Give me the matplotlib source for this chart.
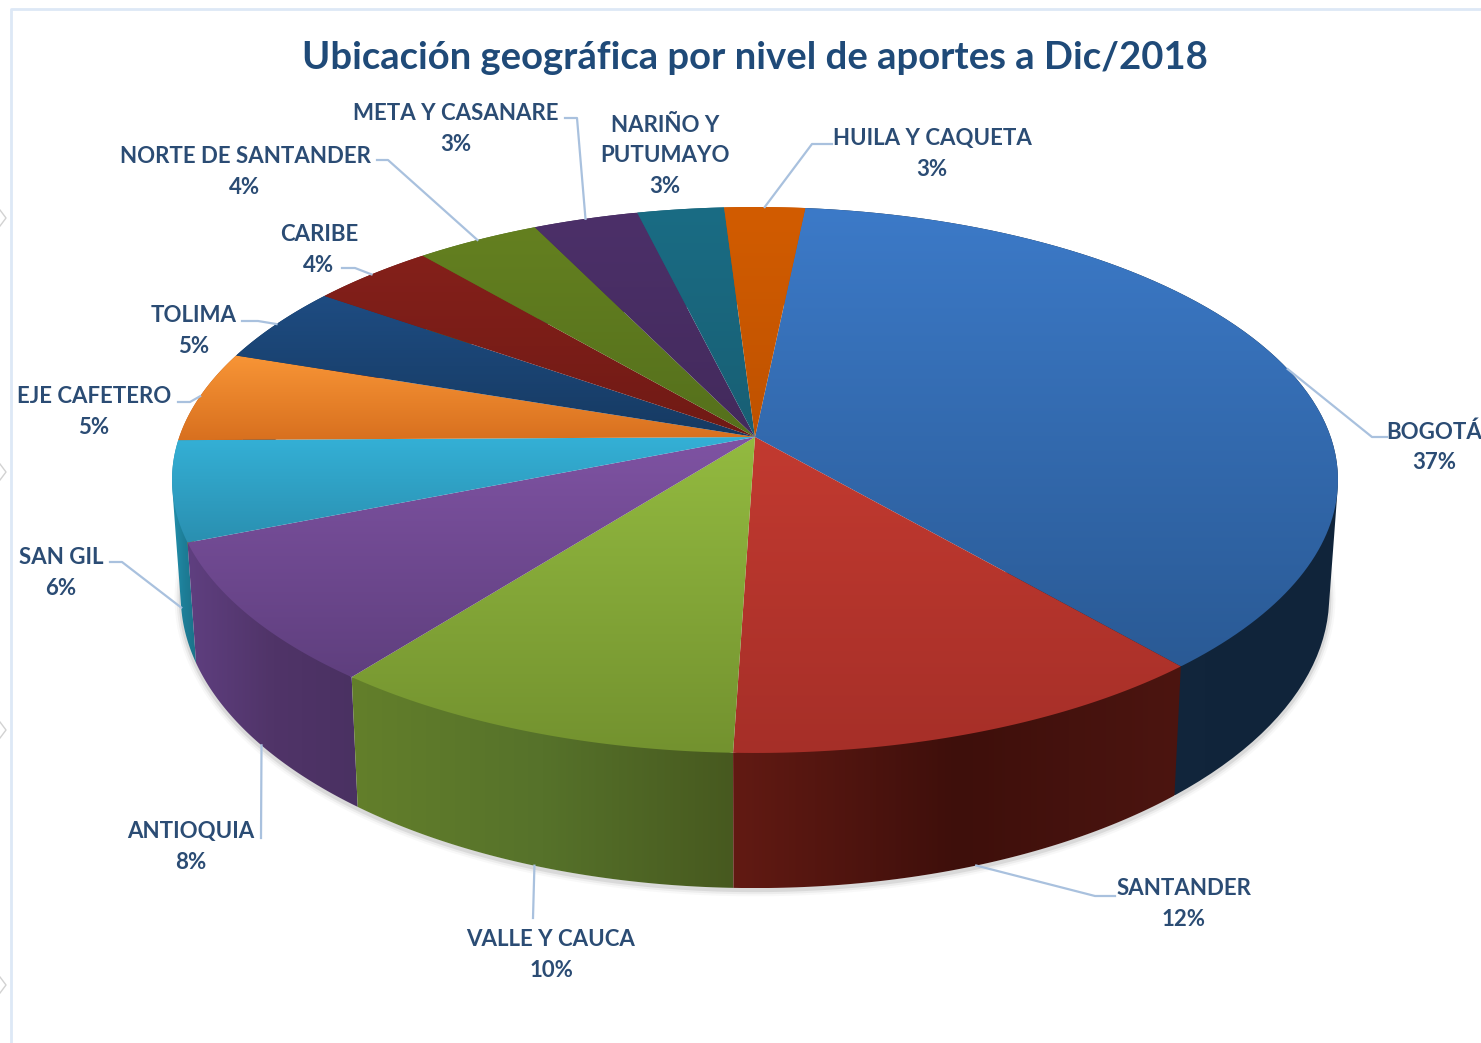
import matplotlib
matplotlib.use('Agg')
import matplotlib.pyplot as plt  # Para graficar
import numpy as np  # Para operaciones numéricas
from matplotlib.colors import LinearSegmentedColormap
from matplotlib.patches import Polygon

plt.rcParams['font.family'] = ['Lato', 'DejaVu Sans']

# Datos (los porcentajes se redondean en las etiquetas)
regiones = ['BOGOTÁ', 'SANTANDER', 'VALLE Y CAUCA', 'ANTIOQUIA', 'SAN GIL', 'EJE CAFETERO',
            'TOLIMA', 'CARIBE', 'NORTE DE SANTANDER', 'META Y CASANARE', 'NARIÑO Y\nPUTUMAYO',
            'HUILA Y CAQUETA']
aportes = [37.1, 11.8, 10.0, 8.4, 5.9, 5.4, 4.6, 4.0, 4.0, 3.4, 2.8, 2.6]

# Colores de la cara superior (arriba, abajo) y del lateral (izquierda, centro, derecha)
color_sup = [('#3c7ac8', '#2a5a95'), ('#c23a30', '#a62f28'), ('#93ba40', '#73922f'),
             ('#7f53a3', '#5f3f7e'), ('#34b0d6', '#2a8fb0'), ('#f89536', '#d8701f'),
             ('#1e4c82', '#163a62'), ('#84201a', '#701a15'), ('#648020', '#55701c'),
             ('#4c3069', '#432a5c'), ('#1a6c84', '#185f74'), ('#d25c00', '#bf5200')]
color_lat = [('#13293f', '#12263c', '#10243a'), ('#621a13', '#3e0f0b', '#4c1510'),
             ('#637f2b', '#56722a', '#47591f'), ('#5f3f80', '#503468', '#4a3162'),
             ('#2290ac', '#1d7d97', '#1b7288'), ('#c0601a', '#b05515', '#a04c10'),
             ('#163a62', '#163a62', '#163a62'), ('#701a15', '#701a15', '#701a15'),
             ('#55701c', '#55701c', '#55701c'), ('#432a5c', '#432a5c', '#432a5c'),
             ('#185f74', '#185f74', '#185f74'), ('#bf5200', '#bf5200', '#bf5200')]

# Posición del centro de cada etiqueta, quiebre de su línea guía y ajuste del ancla en grados
pos_etiqueta = [(1434, 447), (1184, 904), (551, 955), (191, 847), (61, 573), (94, 412),
                (194, 331), (319, 250), (245, 172), (456, 129), (665, 156), (932, 154)]
guia = [[(1387, 437), (1372, 437)], [(1115, 896), (1095, 896)], [(533, 918)], [(261, 838)],
        [(110, 562), (122, 562)], [(178, 402), (190, 402)], [(242, 321), (258, 321)],
        [(342, 268), (355, 268)], [(377, 160), (388, 160)], [(565, 118), (577, 118)],
        None, [(832, 144), (812, 144)]]
ajuste_ancla = [2, 0, -0.5, -1.2, 0, 0, 0, 0, 0, 0, 0, 0]

# Parámetros de la perspectiva
ANG_INICIO = 5.8  # Grados en sentido horario desde arriba
CX, CY = 755, 437
K, A, C = 0.1575, 266.2, 575.7
SX, SY, DY = 0.985, 1.07, 113  # Cara inferior respecto de la superior


def proyecta(theta, abajo=False):
    # Pasa un ángulo del círculo a píxeles, en el borde superior o inferior
    t = np.radians(theta)
    u, v = np.sin(t), np.cos(t)
    dx = C * u / (1 + K * v)
    dy = -A * v / (1 + K * v)
    if abajo:
        return CX + SX * dx, CY + DY + SY * dy
    return CX + dx, CY + dy


def envolvente(puntos):
    # Envolvente convexa: el lateral queda tapado arriba por la cara superior
    pts = sorted(set(puntos))

    def cadena(seq):
        res = []
        for p in seq:
            while len(res) > 1 and ((res[-1][0] - res[-2][0]) * (p[1] - res[-2][1])
                                    - (res[-1][1] - res[-2][1]) * (p[0] - res[-2][0])) <= 0:
                res.pop()
            res.append(p)
        return res[:-1]

    return cadena(pts) + cadena(pts[::-1])


def rellena(ax, puntos, colores, horizontal=False):
    # Rellena un polígono con un degradado recortado a su forma
    puntos = np.array(puntos)
    x0, y0 = puntos.min(axis=0)
    x1, y1 = puntos.max(axis=0)
    cmap = LinearSegmentedColormap.from_list('g', colores)
    grad = np.linspace(0, 1, 256)
    grad = grad.reshape(1, -1) if horizontal else grad.reshape(-1, 1)
    im = ax.imshow(grad, cmap=cmap, extent=(x0, x1, y1, y0), aspect='auto', zorder=ax.zz)
    poly = Polygon(puntos, closed=True, facecolor='none', edgecolor='none', transform=ax.transData)
    ax.add_patch(poly)
    im.set_clip_path(poly)
    ax.zz += 1


fig = plt.figure(figsize=(14.81, 10.43), dpi=100)
ax = fig.add_axes([0, 0, 1, 1])
ax.set_axis_off()
ax.zz = 3

# Marco claro del gráfico y restos del recorte en el borde izquierdo
ax.plot([11, 11, 1481], [1043, 9, 9], color='#dde8f6', lw=2, zorder=1)
for yy in [218, 472, 730, 985]:
    ax.plot([0, 6, 0], [yy - 8, yy, yy + 8], color='#d2d2d2', lw=1, zorder=1)

# Ángulos de cada porción a partir de los aportes
fracc = np.array(aportes) / sum(aportes) * 360
bordes = ANG_INICIO + np.concatenate(([0], np.cumsum(fracc)))

# Sombra suave bajo el borde frontal
th = np.linspace(70, 290, 300)
xs, ys = proyecta(th, abajo=True)
for lw, al in [(9, 0.04), (6, 0.07), (3, 0.12)]:
    ax.plot(xs, ys + 2, color='#555555', lw=lw, alpha=al, zorder=2)

# Laterales, del fondo hacia el frente
orden = np.argsort([proyecta((bordes[i] + bordes[i + 1]) / 2)[1] for i in range(len(aportes))])
for i in orden:
    th = np.linspace(bordes[i], bordes[i + 1], 80)
    xa, ya = proyecta(th)
    xb, yb = proyecta(th, abajo=True)
    puntos = [(float(a), float(b)) for a, b in list(zip(xa, ya)) + list(zip(xb, yb))]
    rellena(ax, envolvente(puntos), color_lat[i], horizontal=True)

# Cara superior
for i in range(len(aportes)):
    th = np.linspace(bordes[i], bordes[i + 1], 120)
    xa, ya = proyecta(th)
    puntos = [(CX, CY)] + list(zip(xa, ya))
    rellena(ax, puntos, color_sup[i])

# Líneas guía
for i, g in enumerate(guia):
    if g is None:
        continue
    medio = (bordes[i] + bordes[i + 1]) / 2 + ajuste_ancla[i]
    frente = 90 < medio % 360 < 270
    ancla = proyecta(medio, abajo=frente)
    pts = g + [ancla]
    ax.plot([p[0] for p in pts], [p[1] for p in pts], color='#a9c1de', lw=1.6, zorder=60)

# Etiquetas con nombre y porcentaje
for nombre, valor, (x, y) in zip(regiones, aportes, pos_etiqueta):
    ax.text(x, y, f'{nombre}\n{round(valor)}%', ha='center', va='center', fontsize=16,
            fontweight='bold', color='#2b4c74', linespacing=1.55, zorder=70)

ax.text(755, 58, 'Ubicación geográfica por nivel de aportes a Dic/2018', ha='center', va='center',
        fontsize=27.5, fontweight='bold', color='#1f4a78', zorder=70)

ax.set_xlim(0, 1481)
ax.set_ylim(1043, 0)
fig.savefig('out.png', dpi=100, facecolor='white')
